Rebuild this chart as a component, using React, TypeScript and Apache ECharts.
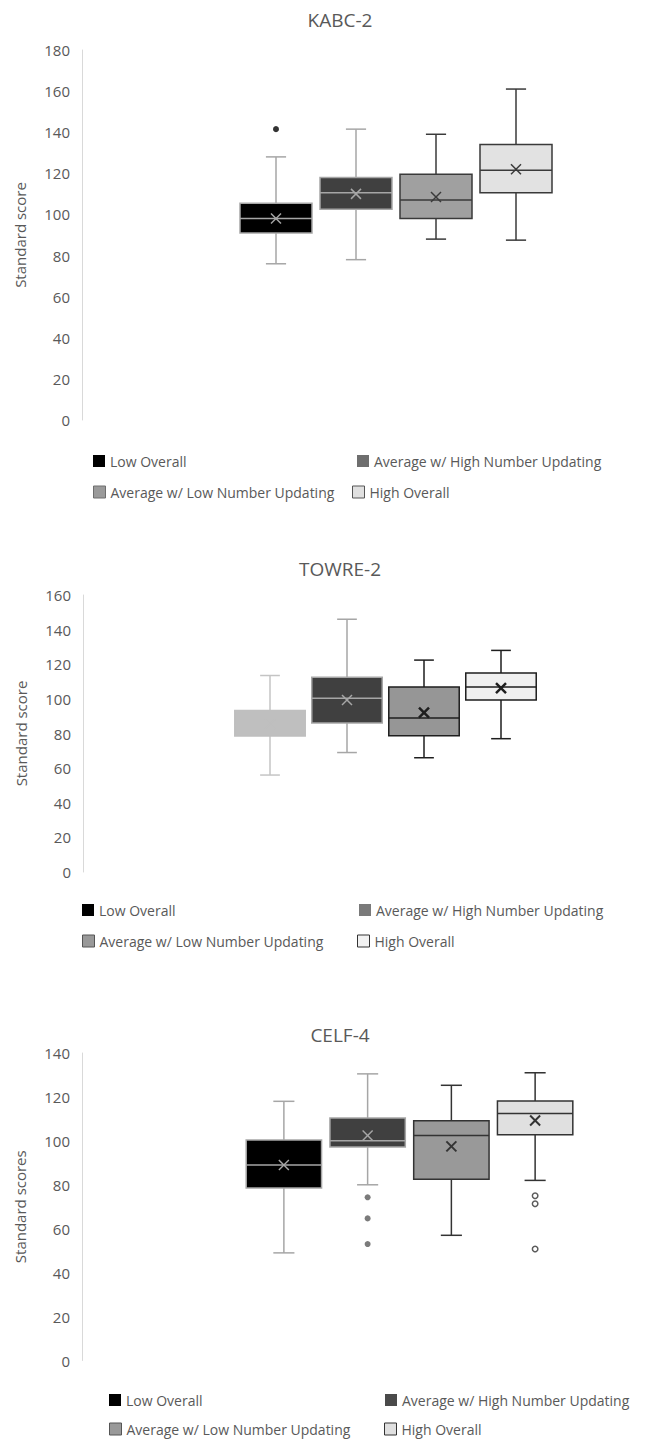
import React, { useEffect, useRef } from "react";
import * as echarts from "echarts";

// ---------- data ----------
const groups = [
  "Low Overall",
  "Average w/ High Number Updating",
  "Average w/ Low Number Updating",
  "High Overall",
];

// [min, Q1, median, Q3, max] per group
const kabcBoxes = [
  [76, 91, 98, 105.5, 128],
  [78, 102.5, 110.5, 118, 141.5],
  [88, 98, 107, 119.5, 139],
  [87.5, 110.5, 121.5, 134, 161],
];
const kabcMeans = [98, 110, 108.5, 122];
const kabcOutliers = [[0, 141.5]];

const towreBoxes = [
  [56, 78.5, 85, 93.3, 113.5],
  [69, 86, 100.3, 112.5, 146],
  [66, 78.7, 89, 106.8, 122.4],
  [77, 99.3, 106.8, 115, 128],
];
const towreMeans = [85, 99.3, 92, 106.2];
const towreOutliers: number[][] = [];

const celfBoxes = [
  [49, 78.5, 89, 100.4, 118],
  [80, 97.2, 100, 110.4, 130.5],
  [57, 82.5, 102.4, 109.2, 125.3],
  [82, 102.8, 112.5, 118.2, 131],
];
const celfMeans = [89, 102.4, 97.5, 109.3];
const celfOutliersAvgHigh = [[1, 74.3], [1, 64.7], [1, 53]];
const celfOutliersHigh = [[3, 75], [3, 71.4], [3, 50.8]];

const titles = ["KABC-2", "TOWRE-2", "CELF-4"];
const yNames = ["Standard score", "Standard score", "Standard scores"];
const yMaxes = [180, 160, 140];
const yInterval = 20;

// ---------- styles ----------
const FONT = "Open Sans";
const TXT = "#595959";

type St = { fill: string; line: string; border?: string; median?: string; meanColor?: string; meanW?: number };

const chartStyles: St[][] = [
  [
    { fill: "#000000", line: "#a6a6a6" },
    { fill: "#404040", line: "#a6a6a6" },
    { fill: "#a0a0a0", line: "#3a3a3a" },
    { fill: "#e2e2e2", line: "#3a3a3a" },
  ],
  [
    { fill: "#bfbfbf", line: "#c4c4c4", border: "#bfbfbf", median: "#bfbfbf", meanColor: "#bfbfbf" },
    { fill: "#404040", line: "#a6a6a6" },
    { fill: "#969696", line: "#1e1e1e", meanW: 2.5 },
    { fill: "#f0f0f0", line: "#1e1e1e", meanW: 2.5 },
  ],
  [
    { fill: "#000000", line: "#a6a6a6" },
    { fill: "#404040", line: "#a6a6a6" },
    { fill: "#999999", line: "#333333", meanW: 2 },
    { fill: "#e0e0e0", line: "#333333", meanW: 2 },
  ],
];

const legendStyles = [
  [
    { color: "#000000" },
    { color: "#6e6e6e" },
    { color: "#9a9a9a", borderColor: "#6e6e6e", borderWidth: 1 },
    { color: "#e0e0e0", borderColor: "#555555", borderWidth: 1 },
  ],
  [
    { color: "#000000" },
    { color: "#7a7a7a" },
    { color: "#999999", borderColor: "#555555", borderWidth: 1 },
    { color: "#f2f2f2", borderColor: "#333333", borderWidth: 1 },
  ],
  [
    { color: "#000000" },
    { color: "#4a4a4a" },
    { color: "#999999", borderColor: "#555555", borderWidth: 1 },
    { color: "#e0e0e0", borderColor: "#333333", borderWidth: 1 },
  ],
];

// layout per chart
const layouts = [
  { left: 236, width: 320, top: 50, height: 370, axisX: 82, ratio: 0.9, titleY: 20,
    legend: [[93, 454], [357, 454], [93, 485], [352, 485]] },
  { left: 231.5, width: 308, top: 595, height: 277, axisX: 83, ratio: 0.915, titleY: 569,
    legend: [[82, 903], [359, 903], [82, 934], [357, 934]] },
  { left: 242, width: 335, top: 1053, height: 307.5, axisX: 82, ratio: 0.9, titleY: 1035,
    legend: [[109, 1393], [385, 1393], [109, 1422], [384, 1422]] },
];

function makeRender(st: St, ratio: number) {
  return (params: any, api: any) => {
    const i = api.value(0);
    const pMin = api.coord([i, api.value(1)]);
    const pQ1 = api.coord([i, api.value(2)]);
    const pMed = api.coord([i, api.value(3)]);
    const pQ3 = api.coord([i, api.value(4)]);
    const pMax = api.coord([i, api.value(5)]);
    const pMean = api.coord([i, api.value(6)]);
    const band = api.size([1, 0])[0];
    const bw = band * ratio;
    const cap = bw * 0.28;
    const cx = pMin[0];
    const wl = { stroke: st.line, lineWidth: 1.5 };
    const m = 5;
    const mc = st.meanColor ?? st.line;
    const mw = st.meanW ?? 1.5;
    return {
      type: "group",
      children: [
        { type: "line", shape: { x1: cx, y1: pQ3[1], x2: cx, y2: pMax[1] }, style: wl },
        { type: "line", shape: { x1: cx, y1: pQ1[1], x2: cx, y2: pMin[1] }, style: wl },
        { type: "line", shape: { x1: cx - cap / 2, y1: pMax[1], x2: cx + cap / 2, y2: pMax[1] }, style: wl },
        { type: "line", shape: { x1: cx - cap / 2, y1: pMin[1], x2: cx + cap / 2, y2: pMin[1] }, style: wl },
        {
          type: "rect",
          shape: { x: cx - bw / 2, y: pQ3[1], width: bw, height: pQ1[1] - pQ3[1] },
          style: { fill: st.fill, stroke: st.border ?? st.line, lineWidth: 1.5 },
        },
        {
          type: "line",
          shape: { x1: cx - bw / 2, y1: pMed[1], x2: cx + bw / 2, y2: pMed[1] },
          style: { stroke: st.median ?? st.line, lineWidth: 1.5 },
        },
        {
          type: "line",
          shape: { x1: cx - m, y1: pMean[1] - m, x2: cx + m, y2: pMean[1] + m },
          style: { stroke: mc, lineWidth: mw },
        },
        {
          type: "line",
          shape: { x1: cx - m, y1: pMean[1] + m, x2: cx + m, y2: pMean[1] - m },
          style: { stroke: mc, lineWidth: mw },
        },
      ],
    };
  };
}

const allBoxes = [kabcBoxes, towreBoxes, celfBoxes];
const allMeans = [kabcMeans, towreMeans, celfMeans];

function buildOption() {
  const grid: any[] = [];
  const xAxis: any[] = [];
  const yAxis: any[] = [];
  const series: any[] = [];
  const legend: any[] = [];
  const graphic: any[] = [];

  layouts.forEach((L, c) => {
    grid.push({ left: L.left, width: L.width, top: L.top, height: L.height, containLabel: false });
    xAxis.push({
      type: "category",
      gridIndex: c,
      data: groups,
      show: false,
      boundaryGap: true,
    });
    yAxis.push({
      type: "value",
      gridIndex: c,
      min: 0,
      max: yMaxes[c],
      interval: yInterval,
      offset: L.left - L.axisX,
      axisLine: { show: true, lineStyle: { color: "#d9d9d9", width: 1 } },
      axisTick: { show: false },
      splitLine: { show: false },
      axisLabel: { color: TXT, fontSize: 15, fontFamily: FONT, margin: 12 },
      name: yNames[c],
      nameLocation: "middle",
      nameGap: 55,
      nameTextStyle: { color: TXT, fontSize: 15, fontFamily: FONT },
    });
    groups.forEach((g, i) => {
      const b = allBoxes[c][i];
      series.push({
        type: "custom",
        name: `${c}|${g}`,
        xAxisIndex: c,
        yAxisIndex: c,
        clip: false,
        itemStyle: { color: chartStyles[c][i].fill },
        encode: { x: 0, y: [1, 2, 3, 4, 5, 6] },
        renderItem: makeRender(chartStyles[c][i], L.ratio),
        data: [[i, b[0], b[1], b[2], b[3], b[4], allMeans[c][i]]],
      });
      legend.push({
        left: L.legend[i][0],
        top: L.legend[i][1],
        padding: 0,
        icon: "rect",
        itemWidth: 12,
        itemHeight: 12,
        selectedMode: false,
        formatter: (n: string) => n.split("|")[1],
        textStyle: { color: TXT, fontSize: 14, fontFamily: FONT },
        data: [{ name: `${c}|${g}`, itemStyle: legendStyles[c][i] }],
      });
    });
    graphic.push({
      type: "text",
      x: 340,
      y: L.titleY,
      style: {
        text: titles[c],
        fill: TXT,
        fontSize: 19,
        fontFamily: FONT,
        textAlign: "center",
        textVerticalAlign: "middle",
      },
    });
  });

  series.push({
    type: "scatter",
    name: "kabc outliers",
    xAxisIndex: 0,
    yAxisIndex: 0,
    symbol: "circle",
    symbolSize: 6,
    itemStyle: { color: "#000000" },
    data: kabcOutliers,
  });
  series.push({
    type: "scatter",
    name: "towre outliers",
    xAxisIndex: 1,
    yAxisIndex: 1,
    symbolSize: 6,
    data: towreOutliers,
  });
  series.push({
    type: "scatter",
    name: "celf outliers avg high",
    xAxisIndex: 2,
    yAxisIndex: 2,
    symbol: "circle",
    symbolSize: 6,
    itemStyle: { color: "#5a5a5a" },
    data: celfOutliersAvgHigh,
  });
  series.push({
    type: "scatter",
    name: "celf outliers high",
    xAxisIndex: 2,
    yAxisIndex: 2,
    symbol: "circle",
    symbolSize: 5.5,
    itemStyle: { color: "#ffffff", borderColor: "#333333", borderWidth: 1.5 },
    data: celfOutliersHigh,
  });

  return {
    animation: false,
    backgroundColor: "#ffffff",
    grid,
    xAxis,
    yAxis,
    series,
    legend,
    graphic,
  };
}

export default function App() {
  const ref = useRef<HTMLDivElement>(null);
  useEffect(() => {
    document.body.style.margin = "0";
    if (!ref.current) return;
    const chart = echarts.init(ref.current, undefined, { renderer: "svg" });
    chart.setOption(buildOption() as any);
    return () => chart.dispose();
  }, []);
  return <div ref={ref} style={{ width: 648, height: 1441 }} />;
}
